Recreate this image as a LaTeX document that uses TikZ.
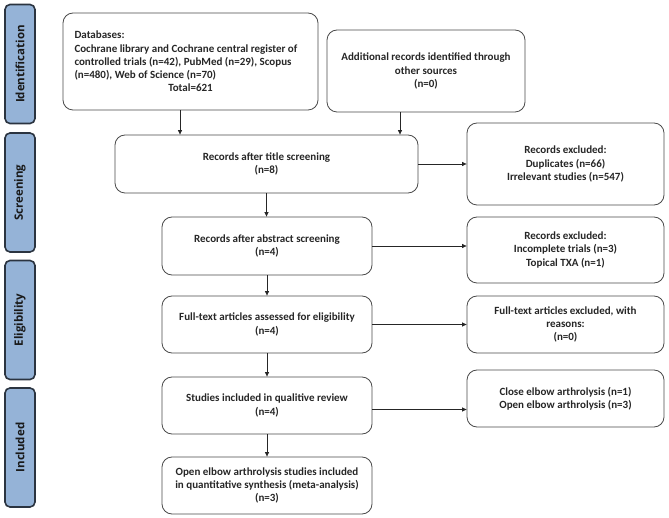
\documentclass[tikz,border=0pt]{standalone}
\usepackage{fontspec}
\setmainfont{Carlito}
\newfontfamily\sidefont{Open Sans}
\usetikzlibrary{arrows.meta,calc}
\definecolor{sideblue}{HTML}{95B3D7}
\definecolor{sideedge}{HTML}{2B3440}
\definecolor{boxedge}{HTML}{4A4A4A}
\begin{document}
\begin{tikzpicture}[x=1pt,y=-1pt,
  sidebox/.style={draw=sideedge,line width=1.6pt,fill=sideblue,rounded corners=5pt,
    minimum width=30pt,minimum height=119pt,inner sep=0pt},
  sidetext/.style={rotate=90,font=\sidefont\bfseries\fontsize{11.5}{14}\selectfont,text=black!90},
  flowbox/.style={draw=boxedge,line width=0.8pt,rounded corners=10pt,inner sep=2pt,
    align=center,font=\bfseries\fontsize{11}{13.3}\selectfont,text=black!85},
  arr/.style={draw=black!85,line width=0.7pt,-{Triangle[length=4.5pt,width=4pt]}}]
\useasboundingbox (0,0) rectangle (669,518);

% side labels
\node[sidebox] (sid) at (20,64) {};
\node[sidetext] (sidt) at (sid) {Identification};
\node[sidebox] (sscr) at (20,192.5) {};
\node[sidetext] (sscrt) at (sscr) {Screening};
\node[sidebox] (selg) at (20,320) {};
\node[sidetext] (selgt) at (selg) {Eligibility};
\node[sidebox] (sinc) at (20,447.5) {};
\node[sidetext] (sinct) at (sinc) {Included};

% flow boxes
\node[flowbox,minimum width=255pt,minimum height=97pt] (db) at (190.5,61.5)
 {\begin{minipage}{232pt}\raggedright Databases:\\
 Cochrane library and Cochrane central register of\\ controlled trials (n=42), PubMed (n=29), Scopus\\ (n=480), Web of Science (n=70)\par
 \centering Total=621\par\end{minipage}};
\node[flowbox,minimum width=198pt,minimum height=82pt] (add) at (426,71)
 {Additional records identified through\\other sources\\(n=0)};
\node[flowbox,minimum width=303pt,minimum height=58pt] (title) at (266.5,164)
 {Records after title screening\\(n=8)};
\node[flowbox,minimum width=197pt,minimum height=82pt] (ex1) at (565.5,164)
 {Records excluded:\\Duplicates (n=66)\\Irrelevant studies (n=547)};
\node[flowbox,minimum width=210pt,minimum height=58pt] (abs) at (267,246)
 {Records after abstract screening\\(n=4)};
\node[flowbox,minimum width=197pt,minimum height=66pt] (ex2) at (565.5,250)
 {Records excluded:\\Incomplete trials (n=3)\\Topical TXA (n=1)};
\node[flowbox,minimum width=210pt,minimum height=57pt] (full) at (267,324.5)
 {Full-text articles assessed for eligibility\\(n=4)};
\node[flowbox,minimum width=197pt,minimum height=57pt] (ex3) at (565.5,324.5)
 {Full-text articles excluded, with\\reasons:\\(n=0)};
\node[flowbox,minimum width=210pt,minimum height=57pt] (qual) at (267,405.5)
 {Studies included in qualitive review\\(n=4)};
\node[flowbox,minimum width=197pt,minimum height=57pt] (ex4) at (565.5,398.5)
 {Close elbow arthrolysis (n=1)\\Open elbow arthrolysis (n=3)};
\node[flowbox,minimum width=210pt,minimum height=57pt] (final) at (267,485.5)
 {Open elbow arthrolysis studies included\\in quantitative synthesis (meta-analysis)\\(n=3)};

% connectors
\draw[arr] ([xshift=-10.5pt]db.south) -- ([xshift=-10.5pt]db.south |- title.north);
\draw[arr] ([xshift=-26pt]add.south) -- ([xshift=-26pt]add.south |- title.north);
\draw[arr] (title.east) -- (title.east -| ex1.west);
\draw[arr] (title.south) -- (title.south |- abs.north);
\draw[arr] (abs.east) -- (abs.east -| ex2.west);
\draw[arr] (abs.south) -- (full.north);
\draw[arr] (full.east) -- (full.east -| ex3.west);
\draw[arr] (full.south) -- (qual.north);
\draw[arr] ([yshift=-4pt]qual.east) -- ([yshift=-4pt]qual.east -| ex4.west);
\draw[arr] (qual.south) -- (final.north);
\end{tikzpicture}
\end{document}
